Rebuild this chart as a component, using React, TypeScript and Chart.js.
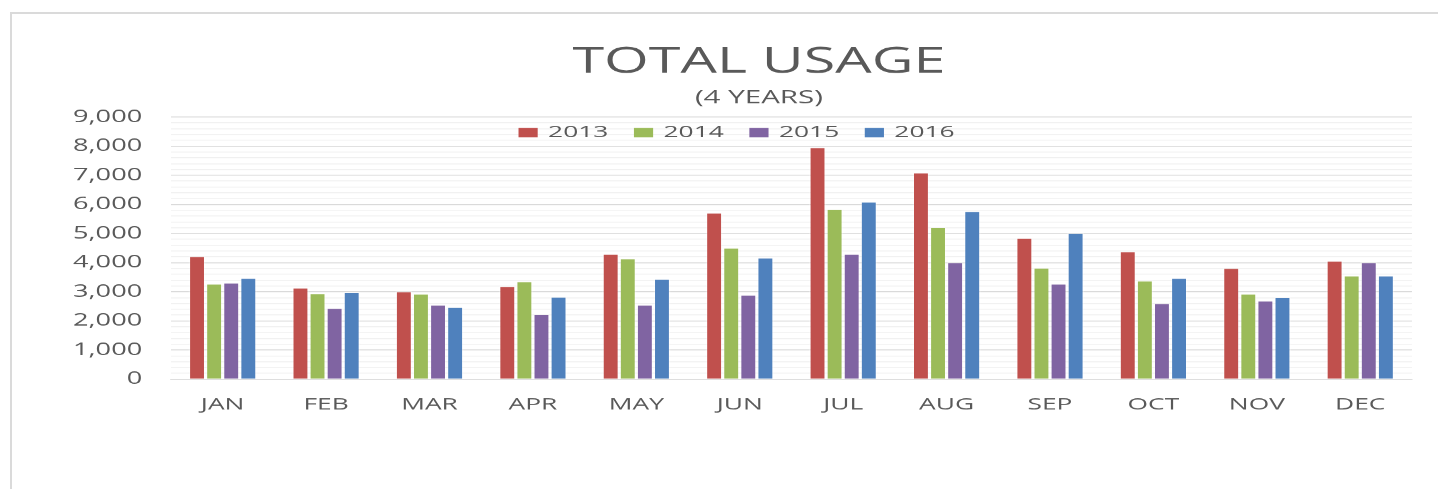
import React, { useEffect, useRef } from "react";
import { Chart, registerables } from "chart.js";

Chart.register(...registerables);

const months = ["JAN", "FEB", "MAR", "APR", "MAY", "JUN", "JUL", "AUG", "SEP", "OCT", "NOV", "DEC"];
const years = ["2013", "2014", "2015", "2016"];
const usage2013 = [4230, 3150, 3020, 3200, 4310, 5720, 7970, 7100, 4850, 4390, 3820, 4070];
const usage2014 = [3280, 2950, 2940, 3360, 4150, 4520, 5850, 5230, 3830, 3390, 2940, 3560];
const usage2015 = [3320, 2450, 2560, 2240, 2560, 2900, 4310, 4020, 3280, 2610, 2700, 4020];
const usage2016 = [3480, 2990, 2480, 2830, 3450, 4180, 6100, 5770, 5020, 3480, 2820, 3560];
const colors = ["#C0504D", "#9BBB59", "#8064A2", "#4F81BD"];
const yTicksMax = 9000;
const yMajorStep = 1000;
const yMinorStep = 200;

const FONT = "'Open Sans', sans-serif";
const TEXT = "#595959";
const SCREEN_W = 1438;
const H = 489;
const STRETCH = SCREEN_W / 900;
const LOGICAL_W = 920;

const overlayLegend = {
  id: "overlayLegend",
  afterDraw(chart: any, _args: any, opts: any) {
    const ctx = chart.ctx;
    ctx.save();
    ctx.font = `normal ${opts.fontSize}px ${FONT}`;
    ctx.textBaseline = "middle";
    ctx.textAlign = "left";
    const ds = chart.data.datasets;
    const widths = ds.map((d: any) => opts.boxW + opts.boxGap + ctx.measureText(d.label).width);
    const total = widths.reduce((a: number, b: number) => a + b, 0) + opts.itemGap * (ds.length - 1);
    let x = opts.centerX - total / 2;
    const y = opts.y;
    ds.forEach((d: any, i: number) => {
      ctx.fillStyle = d.backgroundColor;
      ctx.fillRect(x, y - opts.boxH / 2, opts.boxW, opts.boxH);
      ctx.fillStyle = TEXT;
      ctx.fillText(d.label, x + opts.boxW + opts.boxGap, y);
      x += widths[i] + opts.itemGap;
    });
    ctx.restore();
  },
};

export default function App() {
  const ref = useRef<HTMLCanvasElement | null>(null);

  useEffect(() => {
    if (!ref.current) return;
    const series = [usage2013, usage2014, usage2015, usage2016];
    const chart = new Chart(ref.current, {
      type: "bar",
      data: {
        labels: months,
        datasets: years.map((y, i) => ({
          label: y,
          data: series[i],
          backgroundColor: colors[i],
          borderColor: "rgba(255,255,255,0.3)",
          borderWidth: 1,
          categoryPercentage: 0.661,
          barPercentage: 1,
        })),
      },
      plugins: [overlayLegend],
      options: {
        animation: false,
        responsive: false,
        devicePixelRatio: STRETCH,
        events: [],
        layout: { padding: { top: 10, left: 40, right: 10, bottom: 60 } },
        plugins: {
          legend: { display: false },
          tooltip: { enabled: false },
          title: {
            display: true,
            text: "TOTAL USAGE",
            color: TEXT,
            font: { family: FONT, size: 36, weight: "normal" },
            padding: { top: 31, bottom: 1.5 },
          },
          subtitle: {
            display: true,
            text: "(4 YEARS)",
            color: TEXT,
            font: { family: FONT, size: 18.5, weight: "normal" },
            padding: { top: 1, bottom: 8.1 },
          },
          overlayLegend: {
            centerX: 461,
            y: 132.5,
            fontSize: 16.5,
            boxW: 12,
            boxH: 9.5,
            boxGap: 6.5,
            itemGap: 16,
          },
        } as any,
        scales: {
          x: {
            grid: { display: false },
            border: { display: true, color: "#d9d9d9", width: 1 },
            ticks: {
              color: TEXT,
              font: { family: FONT, size: 16.5 },
              padding: 7.5,
              maxRotation: 0,
              autoSkip: false,
            },
            afterFit: (s: any) => {
              s.height = 50;
            },
          },
          y: {
            min: 0,
            max: yTicksMax,
            grid: {
              drawTicks: false,
              color: (c: any) => (c.tick && c.tick.value % yMajorStep === 0 ? "#d9d9d9" : "#f0f0f0"),
            },
            border: { display: false },
            ticks: {
              stepSize: yMinorStep,
              autoSkip: false,
              color: TEXT,
              font: { family: FONT, size: 17 },
              padding: 18,
              callback: (v: any) => (Number(v) % yMajorStep === 0 ? Number(v).toLocaleString("en-US") : ""),
            },
            afterFit: (s: any) => {
              s.width = 67;
            },
          },
          ySpacer: {
            type: "linear",
            position: "right",
            display: true,
            grid: { display: false },
            border: { display: false },
            ticks: { display: false },
            afterFit: (s: any) => {
              s.width = 26.3;
            },
          },
        } as any,
      },
    });
    return () => chart.destroy();
  }, []);

  return (
    <div
      style={{
        position: "fixed",
        left: 0,
        top: 0,
        width: SCREEN_W,
        height: H,
        overflow: "hidden",
        background: "#fff",
      }}
    >
      <div
        style={{
          position: "absolute",
          left: 10,
          top: 12,
          width: SCREEN_W + 50,
          height: H + 50,
          borderLeft: "2px solid #dadada",
          borderTop: "2px solid #dadada",
        }}
      />
      <canvas
        ref={ref}
        width={LOGICAL_W}
        height={H}
        style={{
          position: "absolute",
          left: 0,
          top: 0,
          width: LOGICAL_W * STRETCH,
          height: H,
          display: "block",
        }}
      />
    </div>
  );
}
